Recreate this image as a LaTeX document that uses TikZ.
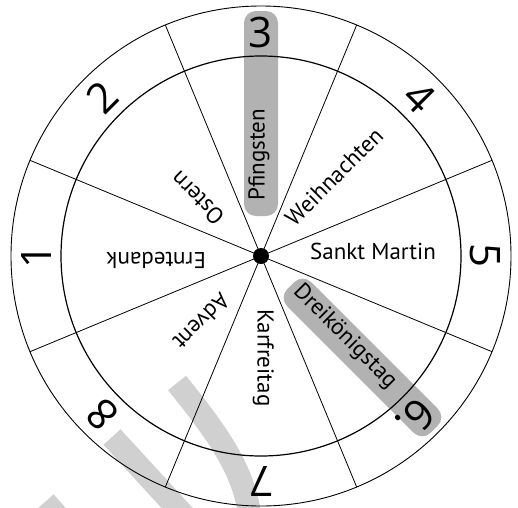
\documentclass[tikz,border=0pt]{standalone}
\usepackage{fontspec}
\setmainfont{PT Sans}
\newfontfamily\digitfont{Open Sans}
\usepackage{tikz}
\usetikzlibrary{calc}

\definecolor{markgray}{RGB}{178,178,178}
\definecolor{wmgray}{RGB}{208,208,208}

\tikzset{
	feast/.style={font=\fontsize{23}{27}\selectfont, anchor=west, text height=0.7em, text depth=0pt, inner sep=0pt},
	slotnum/.style={font=\digitfont\fontsize{42}{48}\selectfont, inner sep=0pt},
	highlight/.style={fill=markgray, rounded corners=12pt},
	watermark/.style={draw=wmgray, line width=23pt}
}

\begin{document}
\begin{tikzpicture}[x=1pt,y=1pt]
				\useasboundingbox (-261,-251) rectangle (257,256);
				\clip (-261,-251) rectangle (257,256);
				\coordinate (O) at (0,0);
				% watermark
				\draw[watermark] (-84,-127) .. controls (-46,-174) and (-16,-214) .. (-11,-262);
				\draw[watermark] (-149,-181) -- (-71,-266);
				\draw[watermark] (-216,-246) -- (-191,-274);
				% highlights
				\path[highlight, rotate=90] (40,-17) rectangle (245,17);
				\path[highlight, rotate=-45] (42,-17) rectangle (245,17);
				% wheel
				\draw[line width=0.9pt] (O) circle (250pt);
				\draw[line width=1.2pt] (O) circle (200pt);
				\draw[line width=0.8pt] (22.5:250) -- (202.5:250);
				\draw[line width=0.8pt] (67.5:250) -- (247.5:250);
				\draw[line width=0.8pt] (112.5:250) -- (292.5:250);
				\draw[line width=0.8pt] (157.5:250) -- (337.5:250);
				\fill (O) circle (8pt);
				% feasts
				\node[feast, rotate=0] (martin) at (0:49) {Sankt Martin};
				\node[feast, rotate=45] (weihn) at (45:44) {Weihnachten};
				\node[feast, rotate=90] (pfing) at (90:55) {Pfingsten};
				\node[feast, rotate=135] (ostern) at (135:53) {Ostern};
				\node[feast, rotate=180] (ernte) at (180:55) {Erntedank};
				\node[feast, rotate=225] (advent) at (225:54) {Advent};
				\node[feast, rotate=270] (karfr) at (270:53) {Karfreitag};
				\node[feast, rotate=315] (dreik) at (315:48) {Dreikönigstag};
				% numbers
				\node[slotnum, rotate=90] (n1) at (180:224) {1};
				\node[slotnum, rotate=45] (n2) at (135:224) {2};
				\node[slotnum, rotate=0] (n3) at (90:224) {3};
				\node[slotnum, rotate=-45] (n4) at (45:224) {4};
				\node[slotnum, rotate=-90] (n5) at (0:224) {5};
				\node[slotnum, rotate=-135] (n6) at ($(-45:224)+(-135:6)$) {6.};
				\node[slotnum, rotate=180] (n7) at (270:225) {7};
				\node[slotnum, rotate=135] (n8) at (225:224) {8};
			\end{tikzpicture}
\end{document}
